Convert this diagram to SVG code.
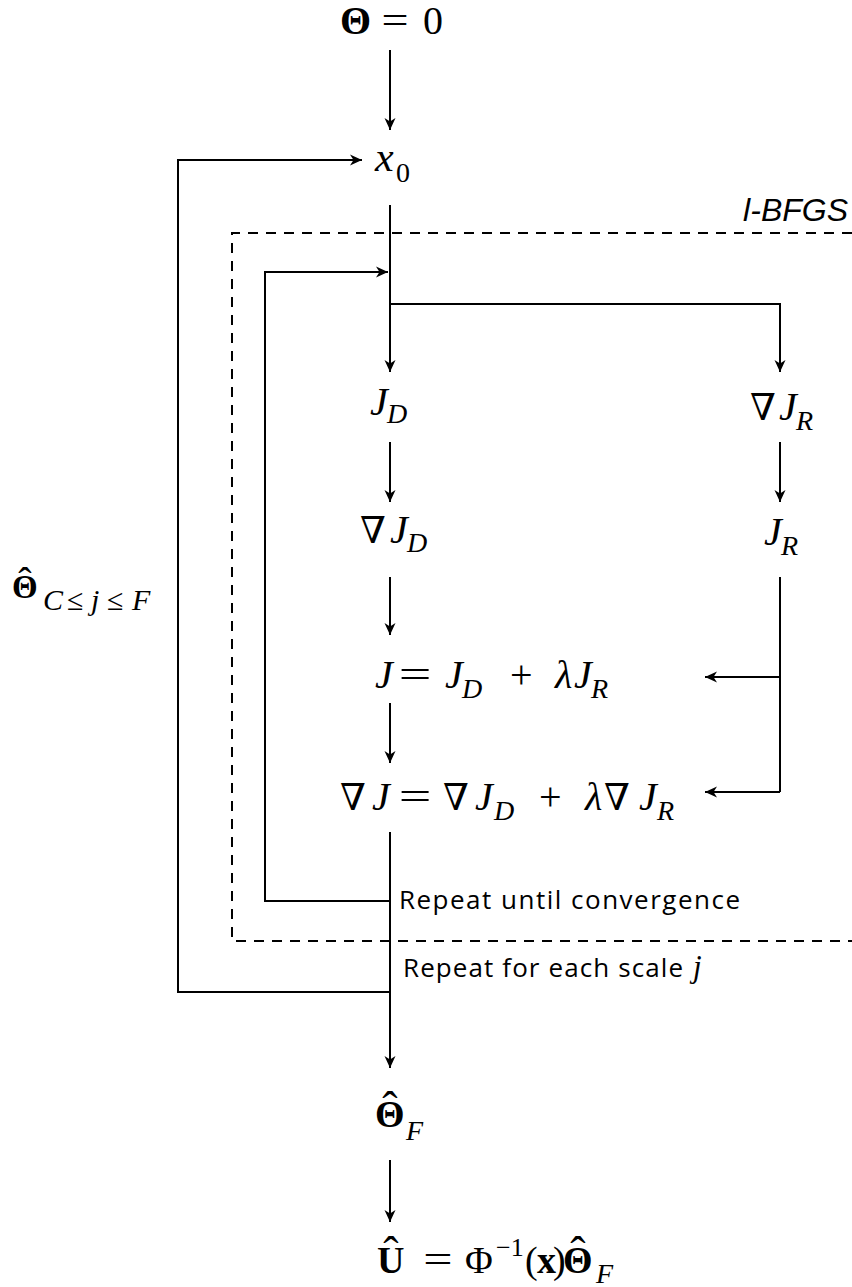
<svg xmlns="http://www.w3.org/2000/svg" width="852" height="1287" viewBox="0 0 852 1287">
<style>
.m{font-family:"Liberation Serif","DejaVu Serif",serif;font-size:40px;fill:#000}
.i{font-style:italic}
.b{font-weight:bold}
.s{font-size:28px}
.nb{font-family:"DejaVu Serif",serif;font-size:37px}
.eq{font-family:"Liberation Serif",serif;font-size:40px;text-anchor:middle}
.hat{font-family:"Liberation Serif",serif;font-size:46px;text-anchor:middle}
.t{font-family:"Open Sans","Liberation Sans",sans-serif;font-size:26px;fill:#000}
.c{fill:none;stroke:#000;stroke-width:2}
.d{fill:none;stroke:#000;stroke-width:2;stroke-dasharray:10,8}
</style>
<defs>
<marker id="ah" markerUnits="userSpaceOnUse" markerWidth="14" markerHeight="14" refX="12" refY="7" orient="auto">
<path d="M0,1.5 L12,7 L0,12.5 L3.5,7 z" fill="#000"/>
</marker>
</defs>
<rect width="852" height="1287" fill="#fff"/>
<g id="lbfgs-box">
<path class="d" d="M852,233 H232 V941 H852"/>
<text x="848" y="221" text-anchor="end" style="font-family:'Liberation Sans',sans-serif;font-size:32px;font-style:italic">l-BFGS</text>
</g>
<g id="connectors">
<path class="c" d="M390,50 V130" marker-end="url(#ah)"/>
<path class="c" d="M390,992 H178 V160 H362" marker-end="url(#ah)"/>
<path class="c" d="M390,205 V372" marker-end="url(#ah)"/>
<path class="c" d="M390,304 H780 V372" marker-end="url(#ah)"/>
<path class="c" d="M390,901 H265 V272 H388" marker-end="url(#ah)"/>
<path class="c" d="M390,442 V502" marker-end="url(#ah)"/>
<path class="c" d="M780,442 V502" marker-end="url(#ah)"/>
<path class="c" d="M390,577 V635" marker-end="url(#ah)"/>
<path class="c" d="M390,703 V763" marker-end="url(#ah)"/>
<path class="c" d="M780,577 V792"/>
<path class="c" d="M780,677 H705" marker-end="url(#ah)"/>
<path class="c" d="M780,792 H705" marker-end="url(#ah)"/>
<path class="c" d="M390,832 V1068" marker-end="url(#ah)"/>
<path class="c" d="M390,1160 V1222" marker-end="url(#ah)"/>
</g>
<g id="theta0">
<text class="m"><tspan class="b" x="340" y="34">Θ</tspan><tspan x="423" y="34">0</tspan></text>
<text class="eq" transform="translate(395,34) scale(1.2,1)">=</text>
</g>
<g id="x0">
<text class="m"><tspan class="i" x="375" y="171" style="font-size:42px">x</tspan><tspan class="s" x="396" y="182">0</tspan></text>
</g>
<g id="JD">
<text class="m"><tspan class="i" x="370" y="415">J</tspan><tspan class="i s" x="387" y="423">D</tspan></text>
</g>
<g id="gradJD">
<text class="m"><tspan class="nb" x="360" y="543">∇</tspan><tspan class="i" x="390" y="543">J</tspan><tspan class="i s" x="407" y="552">D</tspan></text>
</g>
<g id="gradJR">
<text class="m"><tspan class="nb" x="750" y="420">∇</tspan><tspan class="i" x="779" y="420">J</tspan><tspan class="i s" x="796" y="430">R</tspan></text>
</g>
<g id="JR">
<text class="m"><tspan class="i" x="764" y="545">J</tspan><tspan class="i s" x="781" y="555">R</tspan></text>
</g>
<g id="J">
<text class="m"><tspan class="i" x="375" y="688">J</tspan><tspan class="i" x="445" y="688">J</tspan><tspan class="i s" x="462" y="698">D</tspan><tspan x="510" y="688">+</tspan><tspan class="i" x="555" y="688">λ</tspan><tspan class="i" x="574" y="688">J</tspan><tspan class="i s" x="591" y="698">R</tspan></text>
<text class="eq" transform="translate(415,688) scale(1.45,1)">=</text>
</g>
<g id="gradJ">
<text class="m"><tspan class="nb" x="340" y="810">∇</tspan><tspan class="i" x="372" y="810">J</tspan><tspan class="nb" x="443" y="810">∇</tspan><tspan class="i" x="475" y="810">J</tspan><tspan class="i s" x="494" y="820">D</tspan><tspan x="539" y="810">+</tspan><tspan class="i" x="585" y="810">λ</tspan><tspan class="nb" x="604" y="810">∇</tspan><tspan class="i" x="639" y="810">J</tspan><tspan class="i s" x="657" y="820">R</tspan></text>
<text class="eq" transform="translate(415,810) scale(1.45,1)">=</text>
</g>
<g id="thetaCF">
<text class="hat" x="25" y="595" style="font-size:40px">ˆ</text>
<text class="m"><tspan class="b" x="12" y="598" style="font-size:33px">Θ</tspan><tspan class="i" x="43" y="610" style="font-size:30px">C</tspan><tspan x="67" y="610" style="font-size:30px">≤</tspan><tspan class="i" x="91" y="610" style="font-size:30px">j</tspan><tspan x="107" y="610" style="font-size:30px">≤</tspan><tspan class="i" x="132" y="610" style="font-size:30px">F</tspan></text>
</g>
<g id="label-conv">
<text class="t" x="399" y="909" textLength="341" lengthAdjust="spacing">Repeat until convergence</text>
</g>
<g id="label-scale">
<text class="t" x="403" y="977" textLength="280" lengthAdjust="spacing">Repeat for each scale</text>
<text class="m i" x="693" y="977" style="font-size:31px">j</text>
</g>
<g id="thetaF">
<text class="hat" x="390" y="1124">ˆ</text>
<text class="m"><tspan class="b" x="375" y="1127" style="font-size:38px">Θ</tspan><tspan class="i s" x="406" y="1140">F</tspan></text>
</g>
<g id="U">
<text class="hat" x="391" y="1269">ˆ</text>
<text class="hat" x="578" y="1269">ˆ</text>
<text class="m" style="font-size:38px"><tspan class="b" x="377" y="1273">U</tspan><tspan x="465" y="1273">Φ</tspan><tspan x="496" y="1256" style="font-size:26px">−1</tspan><tspan x="525" y="1273">(</tspan><tspan class="b" x="537" y="1273">x</tspan><tspan x="553" y="1273">)</tspan><tspan class="b" x="563" y="1273">Θ</tspan><tspan class="i s" x="596" y="1283">F</tspan></text>
<text class="eq" transform="translate(438,1273) scale(1.3,1)">=</text>
</g>
</svg>
